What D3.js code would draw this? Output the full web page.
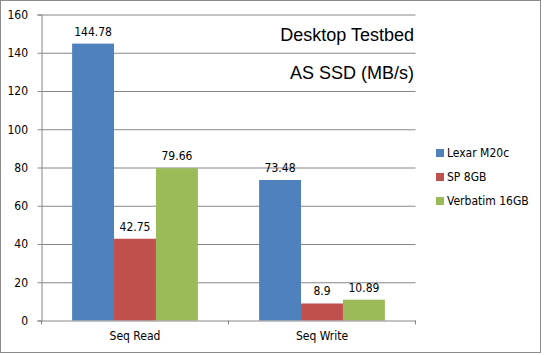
<!DOCTYPE html>
<html>
<head>
<meta charset="utf-8">
<script src="https://cdn.jsdelivr.net/npm/d3@7"></script>
<style>
  body { margin: 0; background: #fff; }
  svg text { font-family: "DejaVu Sans Condensed", "Liberation Sans", sans-serif; fill: #000; }
</style>
</head>
<body>
<svg id="chart"></svg>
<script>
// chart data
const categories = ['Seq Read', 'Seq Write'];
const seriesNames = ['Lexar M20c', 'SP 8GB', 'Verbatim 16GB'];
const lexarValues = [144.78, 73.48];
const spValues = [42.75, 8.9];
const verbatimValues = [79.66, 10.89];
const yTicks = [0, 20, 40, 60, 80, 100, 120, 140, 160];
const titleLines = ['Desktop Testbed', 'AS SSD (MB/s)'];

const colors = ['#4f81bd', '#c0504d', '#9bbb59'];
const seriesValues = [lexarValues, spValues, verbatimValues];

const svgWidth = 544;
const svgHeight = 355;
const margin = { top: 14.5, left: 41.5, right: 128.5, bottom: 34.5 };
const width = svgWidth - margin.left - margin.right;
const height = svgHeight - margin.top - margin.bottom;

const root = d3.select('#chart')
    .attr('width', svgWidth)
    .attr('height', svgHeight);

// outer frame
root.append('rect')
    .attr('x', 0.5).attr('y', 0.5)
    .attr('width', 540).attr('height', 352)
    .attr('fill', '#fff')
    .attr('stroke', '#8c8c8c');

const svg = root.append('g')
    .attr('transform', `translate(${margin.left}, ${margin.top})`);

// scales
const x0 = d3.scaleBand()
    .domain(categories)
    .range([0, width]);

const x1 = d3.scaleBand()
    .domain(seriesNames)
    .range([0, x0.bandwidth()])
    .paddingOuter(0.73);

const y = d3.scaleLinear()
    .domain([0, 160])
    .range([height, 0]);

// gridlines
svg.append('g')
    .attr('class', 'grid')
    .call(d3.axisLeft(y).tickValues(yTicks.slice(1)).tickSize(-width).tickFormat(''))
    .call(g => g.select('.domain').remove())
    .selectAll('line')
    .attr('stroke', '#868686');

// title lines sit in the plot area, right aligned
svg.selectAll('.title')
    .data(titleLines)
    .enter()
    .append('text')
    .attr('class', 'title')
    .attr('x', width - 1.5)
    .attr('y', (d, i) => y(160 - 20 * i) + 26.5)
    .attr('text-anchor', 'end')
    .style('font-family', '"Liberation Sans", Arial, sans-serif')
    .style('font-size', '18px')
    .text(d => d);

// bars
const groups = svg.selectAll('.group')
    .data(categories)
    .enter()
    .append('g')
    .attr('class', 'group')
    .attr('transform', d => `translate(${x0(d)}, 0)`);

const barData = (c, ci) => seriesNames.map((s, si) => ({ series: s, value: seriesValues[si][ci], color: colors[si] }));

groups.selectAll('rect')
    .data((c, ci) => barData(c, ci))
    .enter()
    .append('rect')
    .attr('x', d => x1(d.series))
    .attr('y', d => y(d.value))
    .attr('width', x1.bandwidth())
    .attr('height', d => height - y(d.value))
    .attr('fill', d => d.color);

groups.selectAll('.value')
    .data((c, ci) => barData(c, ci))
    .enter()
    .append('text')
    .attr('class', 'value')
    .attr('x', d => x1(d.series) + x1.bandwidth() / 2)
    .attr('y', d => y(d.value) - 8)
    .attr('text-anchor', 'middle')
    .style('font-size', '12px')
    .text(d => d.value);

// y axis
svg.append('g')
    .attr('class', 'y-axis')
    .call(d3.axisLeft(y).tickValues(yTicks).tickSize(4).tickPadding(9.5))
    .call(g => g.selectAll('line, .domain').attr('stroke', '#868686'))
    .selectAll('text')
    .style('font-size', '12px');

// x axis: labels centred on bands, ticks on band edges
svg.append('g')
    .attr('class', 'x-axis')
    .attr('transform', `translate(0, ${height})`)
    .call(d3.axisBottom(x0).tickSize(0).tickPadding(11).tickSizeOuter(0))
    .call(g => g.select('.domain').attr('stroke', '#868686'))
    .selectAll('text')
    .style('font-size', '12px');

const edges = [0].concat(categories.map(c => x0(c) + x0.bandwidth()));
svg.select('.x-axis').selectAll('.edge')
    .data(edges)
    .enter()
    .append('line')
    .attr('class', 'edge')
    .attr('x1', d => d).attr('x2', d => d)
    .attr('y1', 0).attr('y2', 4)
    .attr('stroke', '#868686');

// legend
const legend = root.append('g')
    .attr('transform', 'translate(436, 149)');

const items = legend.selectAll('.item')
    .data(seriesNames)
    .enter()
    .append('g')
    .attr('class', 'item')
    .attr('transform', (d, i) => `translate(0, ${i * 24})`);

items.append('rect')
    .attr('width', 8).attr('height', 8)
    .attr('fill', (d, i) => colors[i]);

items.append('text')
    .attr('x', 11)
    .attr('y', 8)
    .style('font-size', '12px')
    .text(d => d);
</script>
</body>
</html>
